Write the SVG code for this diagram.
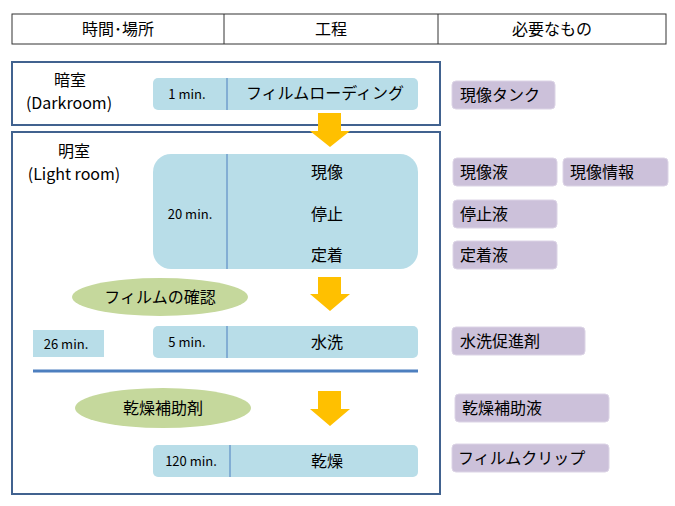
<svg xmlns="http://www.w3.org/2000/svg" width="675" height="506" viewBox="0 0 675 506">
<style>
text{font-family:"Noto Sans CJK JP","Liberation Sans",sans-serif;fill:#000}
.t{font-size:16px}.s{font-size:13px}
.b{fill:#b8dde8}
.p{fill:#ccc1da;stroke:#dcd4e6;stroke-width:1}
.e{fill:#c5d89c}
.f{fill:none;stroke:#41628f;stroke-width:2}
.d{stroke:#4d7fbf;stroke-width:1}
.a{fill:#ffc000}
</style>
<g id="header">
<rect x="12" y="14" width="654" height="30" fill="#fff" stroke="#333" stroke-width="1"/>
<line x1="224" y1="14" x2="224" y2="44" stroke="#333"/>
<line x1="438" y1="14" x2="438" y2="44" stroke="#333"/>
<text class="t" x="118" y="35" text-anchor="middle">時間･場所</text>
<text class="t" x="331" y="35" text-anchor="middle">工程</text>
<text class="t" x="552" y="35" text-anchor="middle">必要なもの</text>
</g>
<g id="darkroom">
<rect class="f" x="12" y="62" width="428" height="63"/>
<text class="t" x="70" y="86" text-anchor="middle">暗室</text>
<text class="t" x="69" y="109" text-anchor="middle">(Darkroom)</text>
</g>
<g id="lightroom">
<rect class="f" x="12" y="132" width="428" height="362"/>
<text class="t" x="74" y="157" text-anchor="middle">明室</text>
<text class="t" x="74" y="180" text-anchor="middle">(Light room)</text>
</g>
<g id="step-loading">
<rect class="b" x="153" y="78" width="265" height="32" rx="5"/>
<line class="d" x1="227" y1="78" x2="227" y2="110"/>
<text class="s" x="187" y="99" text-anchor="middle">1 min.</text>
<text class="t" x="325" y="99" text-anchor="middle">フィルムローディング</text>
</g>
<g id="step-develop">
<rect class="b" x="153" y="154" width="265" height="115" rx="18"/>
<line class="d" x1="227" y1="154" x2="227" y2="269"/>
<text class="s" x="190" y="219" text-anchor="middle">20 min.</text>
<text class="t" x="327" y="178" text-anchor="middle">現像</text>
<text class="t" x="327" y="220" text-anchor="middle">停止</text>
<text class="t" x="327" y="261" text-anchor="middle">定着</text>
</g>
<g id="check">
<ellipse class="e" cx="160" cy="297" rx="88" ry="19"/>
<text class="t" x="160" y="303" text-anchor="middle">フィルムの確認</text>
</g>
<g id="total">
<rect class="b" x="33" y="330" width="71" height="27"/>
<text class="s" x="66" y="349" text-anchor="middle">26 min.</text>
</g>
<g id="step-wash">
<rect class="b" x="153" y="326" width="265" height="32" rx="5"/>
<line class="d" x1="227" y1="326" x2="227" y2="358"/>
<text class="s" x="187" y="347" text-anchor="middle">5 min.</text>
<text class="t" x="327" y="348" text-anchor="middle">水洗</text>
</g>
<g id="divider"><line x1="33" y1="371" x2="418" y2="371" stroke="#4d7fbf" stroke-width="3"/></g>
<g id="aid">
<ellipse class="e" cx="163" cy="408" rx="88" ry="20"/>
<text class="t" x="163" y="414" text-anchor="middle">乾燥補助剤</text>
</g>
<g id="step-dry">
<rect class="b" x="153" y="445" width="265" height="32" rx="5"/>
<line class="d" x1="230" y1="445" x2="230" y2="477"/>
<text class="s" x="191" y="466" text-anchor="middle">120 min.</text>
<text class="t" x="327" y="467" text-anchor="middle">乾燥</text>
</g>
<g id="items" class="t">
<rect class="p" x="452" y="81" width="103" height="28" rx="4"/><text x="460" y="101">現像タンク</text>
<rect class="p" x="453" y="158" width="104" height="28" rx="4"/><text x="460" y="178">現像液</text>
<rect class="p" x="563" y="158" width="105" height="28" rx="4"/><text x="570" y="178">現像情報</text>
<rect class="p" x="453" y="200" width="104" height="28" rx="4"/><text x="460" y="220">停止液</text>
<rect class="p" x="453" y="241" width="104" height="28" rx="4"/><text x="460" y="261">定着液</text>
<rect class="p" x="452" y="327" width="133" height="28" rx="4"/><text x="460" y="347">水洗促進剤</text>
<rect class="p" x="455" y="394" width="154" height="28" rx="4"/><text x="462" y="414">乾燥補助液</text>
<rect class="p" x="452" y="444" width="157" height="28" rx="4"/><text x="458" y="464">フィルムクリップ</text>
</g>
<g id="connectors">
<polygon class="a" points="318,113 341,113 341,131 350,131 330,147 310,131 318,131"/>
<polygon class="a" points="318,277 341,277 341,294 350,294 330,311 310,294 318,294"/>
<polygon class="a" points="318,391 341,391 341,409 350,409 330,426 310,409 318,409"/>
</g>
</svg>
